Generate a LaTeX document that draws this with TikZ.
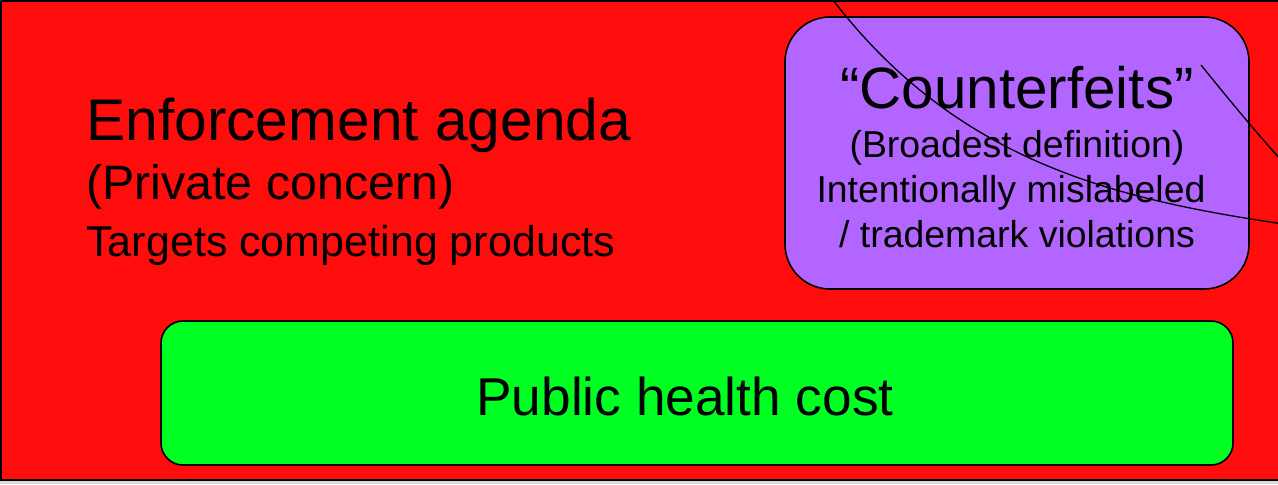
\documentclass[tikz,border=0pt]{standalone}
\usepackage{fontspec}
\setmainfont{Liberation Sans}
\usetikzlibrary{positioning}
\definecolor{agendared}{RGB}{255,12,12}
\definecolor{fakepurple}{RGB}{178,102,255}
\definecolor{healthgreen}{RGB}{0,255,34}
\definecolor{pagegray}{RGB}{216,220,226}

\begin{document}
\begin{tikzpicture}[x=0.02cm, y=-0.02cm,
		roundbox/.style={draw=black, line width=0.9pt},
		txt/.style={inner sep=0pt, text=black}]
		%%%%% START %%%%%
		
		\useasboundingbox (0, 0) rectangle (1278, 484);
		\clip (0, 0) rectangle (1278, 484);
		\fill[pagegray] (0, 0) rectangle (1278, 484);
		
		\draw[fill=agendared, line width=1.2pt] (1, 1) rectangle (1300, 480);
		
		\draw[roundbox, fill=fakepurple, rounded corners=0.9cm] (785, 17) rectangle (1249, 289);
		\draw[roundbox, fill=healthgreen, rounded corners=0.44cm] (161, 321) rectangle (1233, 465);
		
		\node[txt, anchor=base west] (agenda) at (86, 140) {\fontsize{33.4}{40}\selectfont Enforcement agenda};
		\node[txt, anchor=base west] (private) at (86, 199) {\fontsize{27.5}{32}\selectfont (Private concern)};
		\node[txt, anchor=base west] (targets) at (86, 256) {\fontsize{24.5}{29}\selectfont Targets competing products};
		
		\node[txt, anchor=base] (fakes) at (1017, 108) {\fontsize{33.2}{40}\selectfont “Counterfeits”};
		\node[txt, anchor=base] (broadest) at (1017, 157) {\fontsize{21.3}{25}\selectfont (Broadest definition)};
		\node[txt, anchor=base] (mislabeled) at (1011, 202) {\fontsize{21.3}{25}\selectfont Intentionally mislabeled};
		\node[txt, anchor=base] (trademark) at (1017, 247) {\fontsize{21.3}{25}\selectfont / trademark violations};
		
		\node[txt, anchor=base] (health) at (685, 415) {\fontsize{30.3}{36}\selectfont Public health cost};
		
		\coordinate (arcA) at (833, 0);
		\coordinate (arcB) at (1290, 225);
		\coordinate (lineA) at (1201, 65);
		\coordinate (lineB) at (1290, 170);
		\draw[line width=0.75pt] (arcA) .. controls (960, 165) and (1120, 200) .. (arcB);
		\draw[line width=0.75pt] (lineA) .. controls (1235, 107) and (1260, 137) .. (lineB);
		
		%%%%% END %%%%%
	\end{tikzpicture}
\end{document}
